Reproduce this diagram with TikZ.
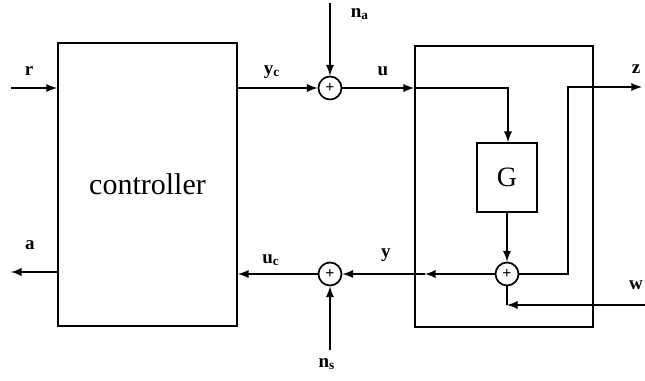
\documentclass[tikz,border=0pt]{standalone}
\usepackage{amsmath}
\usepackage{fontspec}
\setmainfont{Liberation Serif}
\usetikzlibrary{arrows,shapes,positioning}

\begin{document}
\begin{tikzpicture}[>=latex, x=0.5pt, y=-0.5pt, line width=0.85pt,
                    every node/.style={align=center},
                    lbl/.style={font=\fontsize{9.5}{11}\selectfont\bfseries, inner sep=0pt},
                    sumnode/.style={draw, circle, minimum size=11.5pt, inner sep=0pt, font=\fontsize{8}{8}\selectfont\bfseries}]
  \useasboundingbox (0,0) rectangle (645,381);

  % Define nodes
  \node[draw, rectangle, minimum width=89.5pt, minimum height=141.5pt, font=\fontsize{15}{18}\selectfont] (ctrl) at (147.5,184.5)
    {controller};

  \node[draw, rectangle, minimum width=89pt, minimum height=140.5pt] (plant) at (504,186.5) {};

  \node[draw, rectangle, minimum width=30pt, minimum height=34.5pt, font=\fontsize{14}{16}\selectfont] (G) at (507,177.5)
    {G};

  \node[sumnode] (sumu) at (330,88) {+};
  \node[sumnode] (sumy) at (330,274) {+};
  \node[sumnode] (sumg) at (507,274) {+};

  % free ends and corners
  \coordinate (rin) at (11,88);
  \coordinate (aout) at (11,272);
  \coordinate (natop) at (330,3);
  \coordinate (nsbot) at (330,350);
  \coordinate (ucorner) at (508,88);
  \coordinate (zbend) at (568,274);
  \coordinate (zcorner) at (568,87);
  \coordinate (zout) at (642,87);
  \coordinate (win) at (650,305);
  \coordinate (wcorner) at (507,305);
  \coordinate (ymid) at (425,274);

  % Define paths
  \draw[->] (rin) -- (ctrl.west |- rin);
  \draw[->] (ctrl.west |- aout) -- (aout);
  \draw[->] (ctrl.east |- sumu) -- (sumu);
  \draw[->] (natop) -- (sumu);
  \draw[->] (sumu) -- (plant.west |- sumu);
  \draw[->] (plant.west |- sumu) -- (ucorner) -- (G.north -| ucorner);
  \draw[->] (G) -- (sumg);
  \draw[->] (sumg) -- (zbend) -- (zcorner) -- (zout);
  \draw[->] (win) -- (wcorner);
  \draw (wcorner) -- (sumg);
  \draw[->] (sumg) -- (ymid);
  \draw[->] (ymid) -- (sumy);
  \draw[->] (sumy) -- (ctrl.east |- sumy);
  \draw[->] (nsbot) -- (sumy);

  % Labels
  \node[lbl] (rlbl) at (29,71) {r};
  \node[lbl] (albl) at (30,245) {a};
  \node[lbl] (yclbl) at (272,72) {y$_{\mathbf{c}}$};
  \node[lbl] (uclbl) at (271,260) {u$_{\mathbf{c}}$};
  \node[lbl] (ulbl) at (383,71) {u};
  \node[lbl] (ylbl) at (386,255) {y};
  \node[lbl] (nalbl) at (360,14) {n$_{\mathbf{a}}$};
  \node[lbl] (nslbl) at (327,364) {n$_{\mathbf{s}}$};
  \node[lbl] (zlbl) at (636,69) {z};
  \node[lbl] (wlbl) at (636,285) {w};

\end{tikzpicture}
\end{document}
